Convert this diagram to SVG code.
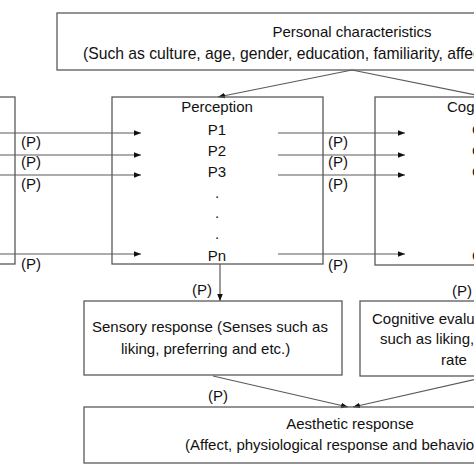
<svg xmlns="http://www.w3.org/2000/svg" width="474" height="474" viewBox="0 0 474 474">
<defs>
<style>
.box{fill:none;stroke:#5a5a5a;stroke-width:1.3}
.ln{fill:none;stroke:#5a5a5a;stroke-width:1.2}
text{font-family:"Liberation Sans",Arial,sans-serif;font-size:15px;fill:#111}
.m{text-anchor:middle}
</style>
<marker id="ah" viewBox="0 0 10 10" refX="10" refY="5" markerWidth="7" markerHeight="7" markerUnits="userSpaceOnUse" orient="auto">
<path d="M0,1 L10,5 L0,9 z" fill="#111"/>
</marker>
</defs>
<rect width="474" height="474" fill="#fff"/>
<g id="connectors">
<line class="ln" x1="0" y1="133" x2="141" y2="133" marker-end="url(#ah)"/>
<line class="ln" x1="0" y1="155" x2="141" y2="155" marker-end="url(#ah)"/>
<line class="ln" x1="0" y1="175" x2="141" y2="175" marker-end="url(#ah)"/>
<line class="ln" x1="0" y1="254" x2="141" y2="254" marker-end="url(#ah)"/>
<line class="ln" x1="278" y1="133" x2="405" y2="133" marker-end="url(#ah)"/>
<line class="ln" x1="278" y1="155" x2="405" y2="155" marker-end="url(#ah)"/>
<line class="ln" x1="278" y1="175" x2="405" y2="175" marker-end="url(#ah)"/>
<line class="ln" x1="278" y1="254" x2="405" y2="254" marker-end="url(#ah)"/>
<line class="ln" x1="352" y1="70" x2="218" y2="97" marker-end="url(#ah)"/>
<line class="ln" x1="352" y1="70" x2="486" y2="97" marker-end="url(#ah)"/>
<line class="ln" x1="220" y1="264" x2="220" y2="301" marker-end="url(#ah)"/>
<line class="ln" x1="213" y1="376" x2="348" y2="407" marker-end="url(#ah)"/>
<line class="ln" x1="490" y1="376" x2="353" y2="407" marker-end="url(#ah)"/>
</g>
<g id="personal">
<rect class="box" x="57" y="13" width="700" height="57"/>
<text class="m" x="352" y="37">Personal characteristics</text>
<text x="83" y="59" style="font-size:15.7px">(Such as culture, age, gender, education, familiarity, affect, experience and etc.)</text>
</g>
<g id="stimulus">
<rect class="box" x="-100" y="97" width="115" height="167"/>
</g>
<g id="perception">
<rect class="box" x="112" y="97" width="211" height="167"/>
<text class="m" x="217" y="112">Perception</text>
<text class="m" x="217" y="135">P1</text>
<text class="m" x="217" y="156">P2</text>
<text class="m" x="217" y="177">P3</text>
<text class="m" x="217" y="198">.</text>
<text class="m" x="217" y="218">.</text>
<text class="m" x="217" y="239">.</text>
<text class="m" x="217" y="261">Pn</text>
</g>
<g id="cognition">
<rect class="box" x="375" y="97" width="200" height="168"/>
<text x="447" y="112">Cognition</text>
<text x="472" y="135">C1</text>
<text x="472" y="156">C2</text>
<text x="472" y="177">C3</text>
<text x="472" y="261">Cn</text>
</g>
<g id="labels">
<text class="m" x="31" y="147">(P)</text>
<text class="m" x="31" y="167">(P)</text>
<text class="m" x="31" y="189">(P)</text>
<text class="m" x="31" y="269">(P)</text>
<text class="m" x="338" y="147">(P)</text>
<text class="m" x="338" y="167">(P)</text>
<text class="m" x="338" y="189">(P)</text>
<text class="m" x="338" y="270">(P)</text>
<text class="m" x="202" y="295">(P)</text>
<text class="m" x="462" y="296">(P)</text>
<text class="m" x="218" y="401">(P)</text>
</g>
<g id="sensory">
<rect class="box" x="84" y="301" width="258" height="74"/>
<text x="92" y="332">Sensory response (Senses such as</text>
<text x="121" y="354">liking, preferring and etc.)</text>
</g>
<g id="cogeval">
<rect class="box" x="360" y="301" width="250" height="75"/>
<text x="372" y="324">Cognitive evaluation (Scores</text>
<text x="380" y="344">such as liking, preference</text>
<text class="m" x="454" y="365">rate</text>
</g>
<g id="aesthetic">
<rect class="box" x="84" y="407" width="600" height="56"/>
<text class="m" x="350" y="429">Aesthetic response</text>
<text x="185" y="450">(Affect, physiological response and behavior)</text>
</g>
</svg>
